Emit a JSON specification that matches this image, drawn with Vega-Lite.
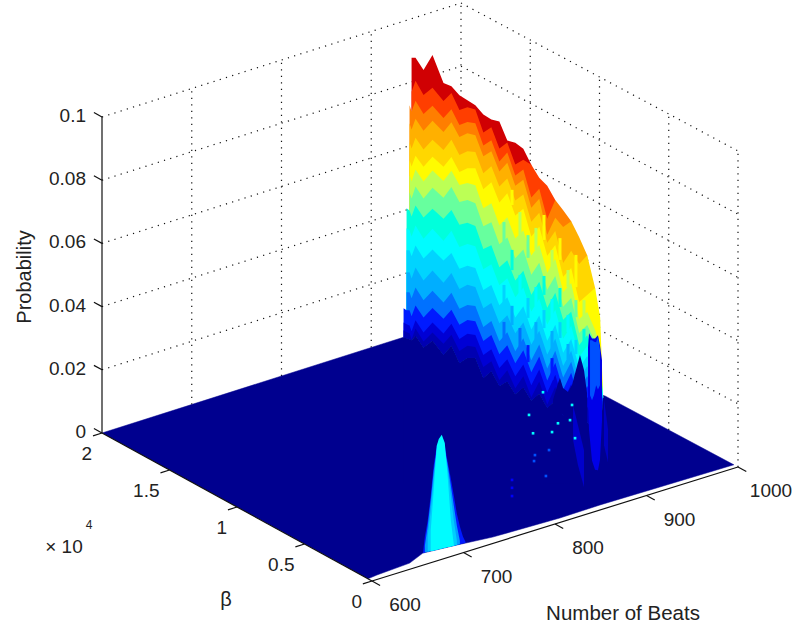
{"$schema":"https://vega.github.io/schema/vega-lite/v6.json","width":807,"height":625,"padding":0,"autosize":{"type":"none"},"background":"white","config":{"view":{"stroke":null}},
"datasets":{
"wall":[
{"beats":936.3,"beta":19439,"L92":0.0897,"L85":0.079,"L79":0.0727,"L73":0.067,"L68":0.061,"L63":0.0553,"L57":0.0506,"L50":0.0452,"L43":0.0395,"L37":0.0332,"L31":0.0269,"L26":0.0199,"L19":0.0136,"L13":0.0079,"L8":0.0032,"L4":0.0006,"L0":0.0003},
{"beats":936,"beta":20000,"L13":0.0092,"L8":0.0047,"L4":0.0022,"L0":0},
{"beats":936.1,"beta":19790,"L43":0.0413,"L37":0.035,"L31":0.028,"L26":0.021,"L19":0.0147,"L13":0.009,"L8":0.0046,"L4":0.0021,"L0":0.0002},
{"beats":936.2,"beta":19579,"L79":0.0744,"L73":0.0687,"L68":0.0627,"L63":0.057,"L57":0.0522,"L50":0.0468,"L43":0.0411,"L37":0.0348,"L31":0.0285,"L26":0.0215,"L19":0.0152,"L13":0.0095,"L8":0.0047,"L4":0.0022,"L0":0.0003},
{"beats":936.4,"beta":19159,"L92":0.0904,"L85":0.0831,"L79":0.0768,"L73":0.0711,"L68":0.0651,"L63":0.0594,"L57":0.055,"L50":0.0496,"L43":0.0436,"L37":0.0373,"L31":0.031,"L26":0.024,"L19":0.0177,"L13":0.012,"L8":0.0073,"L4":0.0047,"L0":0.0025},
{"beats":936.7,"beta":18598,"L92":0.0878,"L85":0.0799,"L79":0.0739,"L73":0.0686,"L68":0.0626,"L63":0.0572,"L57":0.0525,"L50":0.0471,"L43":0.0411,"L37":0.0344,"L31":0.0281,"L26":0.0212,"L19":0.0149,"L13":0.0095,"L8":0.0047,"L4":0.0019,"L0":0},
{"beats":937,"beta":17967,"L92":0.094,"L85":0.0836,"L79":0.0779,"L73":0.0732,"L68":0.0672,"L63":0.0618,"L57":0.0574,"L50":0.052,"L43":0.0453,"L37":0.039,"L31":0.0324,"L26":0.0258,"L19":0.0194,"L13":0.0139,"L8":0.0093,"L4":0.0062,"L0":0.0036},
{"beats":937.4,"beta":17196,"L92":0.0869,"L85":0.0812,"L79":0.0758,"L73":0.0714,"L68":0.0657,"L63":0.0604,"L57":0.0559,"L50":0.0506,"L43":0.0439,"L37":0.037,"L31":0.0307,"L26":0.0237,"L19":0.0174,"L13":0.0123,"L8":0.0076,"L4":0.0044,"L0":0.0009},
{"beats":937.6,"beta":16635,"L92":0.0872,"L85":0.085,"L79":0.0799,"L73":0.0758,"L68":0.0702,"L63":0.0648,"L57":0.0604,"L50":0.0553,"L43":0.048,"L37":0.0414,"L31":0.0344,"L26":0.0281,"L19":0.0218,"L13":0.0164,"L8":0.012,"L4":0.0085,"L0":0.0051},
{"beats":937.9,"beta":16074,"L92":0.0856,"L85":0.0809,"L79":0.0762,"L73":0.0724,"L68":0.0667,"L63":0.0613,"L57":0.0572,"L50":0.0518,"L43":0.0446,"L37":0.0376,"L31":0.0307,"L26":0.0243,"L19":0.018,"L13":0.013,"L8":0.0085,"L4":0.0047,"L0":0.0009},
{"beats":938.2,"beta":15514,"L92":0.0853,"L85":0.0831,"L79":0.0784,"L73":0.0749,"L68":0.0692,"L63":0.0638,"L57":0.0591,"L50":0.0537,"L43":0.0465,"L37":0.0398,"L31":0.0329,"L26":0.0269,"L19":0.0205,"L13":0.0158,"L8":0.0114,"L4":0.0076,"L0":0.0038},
{"beats":938.4,"beta":14953,"L92":0.085,"L85":0.0837,"L79":0.0793,"L73":0.0755,"L68":0.0702,"L63":0.0651,"L57":0.0597,"L50":0.054,"L43":0.0468,"L37":0.0404,"L31":0.0335,"L26":0.0275,"L19":0.0215,"L13":0.0167,"L8":0.0123,"L4":0.0085,"L0":0.0051},
{"beats":938.7,"beta":14392,"L92":0.0834,"L85":0.0777,"L79":0.0736,"L73":0.0702,"L68":0.0648,"L63":0.0597,"L57":0.0537,"L50":0.048,"L43":0.0408,"L37":0.0344,"L31":0.0278,"L26":0.0221,"L19":0.0161,"L13":0.0117,"L8":0.0073,"L4":0.0035,"L0":0},
{"beats":939,"beta":13831,"L92":0.0831,"L85":0.0806,"L79":0.0765,"L73":0.073,"L68":0.0683,"L63":0.0632,"L57":0.0566,"L50":0.0506,"L43":0.0433,"L37":0.0373,"L31":0.0307,"L26":0.025,"L19":0.0193,"L13":0.0149,"L8":0.0104,"L4":0.0066,"L0":0.0035},
{"beats":939.3,"beta":13270,"L92":0.0837,"L85":0.0752,"L79":0.0711,"L73":0.0679,"L68":0.0632,"L63":0.0581,"L57":0.0509,"L50":0.0449,"L43":0.0376,"L37":0.0319,"L31":0.0256,"L26":0.0199,"L19":0.0142,"L13":0.0101,"L8":0.0057,"L4":0.0019,"L0":0},
{"beats":939.5,"beta":12710,"L92":0.079,"L85":0.0784,"L79":0.0752,"L73":0.072,"L68":0.067,"L63":0.0623,"L57":0.0547,"L50":0.0483,"L43":0.0411,"L37":0.0354,"L31":0.0294,"L26":0.0237,"L19":0.0183,"L13":0.0142,"L8":0.0098,"L4":0.0063,"L0":0.0028},
{"beats":939.8,"beta":12149,"L92":0.0796,"L85":0.0727,"L79":0.0692,"L73":0.066,"L68":0.0613,"L63":0.0566,"L57":0.0493,"L50":0.043,"L43":0.036,"L37":0.0307,"L31":0.0243,"L26":0.0193,"L19":0.0136,"L13":0.0098,"L8":0.0057,"L4":0.0019,"L0":0},
{"beats":940.1,"beta":11588,"L92":0.079,"L85":0.0755,"L79":0.0724,"L73":0.0692,"L68":0.0645,"L63":0.06,"L57":0.0531,"L50":0.0471,"L43":0.0404,"L37":0.0351,"L31":0.0291,"L26":0.024,"L19":0.019,"L13":0.0152,"L8":0.0107,"L4":0.007,"L0":0.0035},
{"beats":940.4,"beta":11027,"L92":0.0752,"L85":0.0752,"L79":0.0648,"L73":0.0616,"L68":0.0572,"L63":0.0525,"L57":0.0465,"L50":0.0404,"L43":0.0341,"L37":0.0288,"L31":0.0231,"L26":0.0183,"L19":0.0133,"L13":0.0095,"L8":0.0054,"L4":0.0016,"L0":0.0006},
{"beats":940.6,"beta":10466,"L85":0.0724,"L79":0.0689,"L73":0.0657,"L68":0.0613,"L63":0.0569,"L57":0.0512,"L50":0.0455,"L43":0.0395,"L37":0.0341,"L31":0.0288,"L26":0.024,"L19":0.0196,"L13":0.0158,"L8":0.0117,"L4":0.0079,"L0":0.0041},
{"beats":940.9,"beta":9906,"L85":0.0711,"L79":0.0607,"L73":0.0556,"L68":0.0531,"L63":0.049,"L57":0.0436,"L50":0.0382,"L43":0.0325,"L37":0.0272,"L31":0.0221,"L26":0.0177,"L19":0.0133,"L13":0.0095,"L8":0.0057,"L4":0.0019,"L0":0.0009},
{"beats":941.2,"beta":9345,"L85":0.0679,"L79":0.0679,"L73":0.0623,"L68":0.0581,"L63":0.0537,"L57":0.0493,"L50":0.0439,"L43":0.0386,"L37":0.0332,"L31":0.0284,"L26":0.024,"L19":0.0202,"L13":0.0164,"L8":0.0126,"L4":0.0088,"L0":0.0044},
{"beats":941.4,"beta":8784,"L79":0.066,"L73":0.0607,"L68":0.0493,"L63":0.0449,"L57":0.0401,"L50":0.0354,"L43":0.0313,"L37":0.0253,"L31":0.0209,"L26":0.0167,"L19":0.013,"L13":0.0092,"L8":0.0054,"L4":0.0019,"L0":0.0009},
{"beats":941.7,"beta":8223,"L79":0.0638,"L73":0.0638,"L68":0.0544,"L63":0.049,"L57":0.0442,"L50":0.0395,"L43":0.0351,"L37":0.0307,"L31":0.0265,"L26":0.0228,"L19":0.0193,"L13":0.0158,"L8":0.0123,"L4":0.0088,"L0":0.0041},
{"beats":942,"beta":7662,"L73":0.06,"L68":0.0515,"L63":0.0395,"L57":0.0341,"L50":0.0297,"L43":0.0259,"L37":0.0221,"L31":0.0186,"L26":0.0149,"L19":0.0117,"L13":0.0082,"L8":0.0047,"L4":0.0016,"L0":0.0003},
{"beats":942.3,"beta":7102,"L73":0.0556,"L68":0.0556,"L63":0.043,"L57":0.0376,"L50":0.0335,"L43":0.0303,"L37":0.0269,"L31":0.0237,"L26":0.0205,"L19":0.0174,"L13":0.0142,"L8":0.0107,"L4":0.0076,"L0":0.0028},
{"beats":942.5,"beta":6541,"L68":0.0465,"L63":0.0465,"L57":0.0332,"L50":0.0294,"L43":0.0256,"L37":0.0224,"L31":0.0193,"L26":0.0161,"L19":0.013,"L13":0.0098,"L8":0.0066,"L4":0.0038,"L0":0.0009},
{"beats":942.7,"beta":6190,"L63":0.0381,"L57":0.0286,"L50":0.0254,"L43":0.0222,"L37":0.0197,"L31":0.0172,"L26":0.0144,"L19":0.0117,"L13":0.0087,"L8":0.0055,"L4":0.0028,"L0":0.0008},
{"beats":942.8,"beta":5980,"L63":0.0133,"L57":0.0133,"L50":0.0133,"L43":0.0133,"L37":0.0133,"L31":0.0133,"L26":0.0133,"L19":0.0133,"L13":0.0133,"L8":0.0133,"L4":0.0133,"L0":0.0133}
],
"streaks":[
{"level":0.05,"beats":774.1,"prob":0.0932,"bottom":0.086},{"level":0.031,"beats":774.1,"prob":0.0733,"bottom":0.0666},{"level":0.019,"beats":774.1,"prob":0.0616,"bottom":0.0553},
{"level":0.063,"beats":782.9,"prob":0.1026,"bottom":0.0978},{"level":0.043,"beats":782.9,"prob":0.0836,"bottom":0.0772},{"level":0.026,"beats":782.9,"prob":0.0659,"bottom":0.0598},
{"level":0.057,"beats":791.6,"prob":0.0948,"bottom":0.0875},{"level":0.037,"beats":791.6,"prob":0.0749,"bottom":0.0685},{"level":0.019,"beats":791.6,"prob":0.0581,"bottom":0.0524},
{"level":0.05,"beats":800.4,"prob":0.0867,"bottom":0.0795},{"level":0.031,"beats":800.4,"prob":0.0668,"bottom":0.0605},{"level":0.013,"beats":800.4,"prob":0.0519,"bottom":0.0465},
{"level":0.057,"beats":809.1,"prob":0.0882,"bottom":0.0812},{"level":0.037,"beats":809.1,"prob":0.0695,"bottom":0.0635},{"level":0.026,"beats":809.1,"prob":0.0584,"bottom":0.053},
{"level":0.063,"beats":817.9,"prob":0.0915,"bottom":0.0836},{"level":0.043,"beats":817.9,"prob":0.0722,"bottom":0.0662},{"level":0.031,"beats":817.9,"prob":0.0614,"bottom":0.0557},
{"level":0.057,"beats":826.7,"prob":0.0796,"bottom":0.0739},{"level":0.037,"beats":826.7,"prob":0.0641,"bottom":0.0578},{"level":0.026,"beats":826.7,"prob":0.054,"bottom":0.0486},{"level":0.013,"beats":826.7,"prob":0.0454,"bottom":0.0385},
{"level":0.063,"beats":835.4,"prob":0.0826,"bottom":0.0757},{"level":0.043,"beats":835.4,"prob":0.0668,"bottom":0.0608},{"level":0.031,"beats":835.4,"prob":0.056,"bottom":0.051},
{"level":0.057,"beats":844.2,"prob":0.0717,"bottom":0.0663},{"level":0.037,"beats":844.2,"prob":0.0575,"bottom":0.0521},{"level":0.026,"beats":844.2,"prob":0.0483,"bottom":0.0435},
{"level":0.063,"beats":852.9,"prob":0.0757,"bottom":0.0655},{"level":0.05,"beats":852.9,"prob":0.0614,"bottom":0.056},{"level":0.031,"beats":852.9,"prob":0.0488,"bottom":0.0443},
{"level":0.057,"beats":861.7,"prob":0.0606,"bottom":0.0549},{"level":0.043,"beats":861.7,"prob":0.0515,"bottom":0.0473}
],
"bump":[
{"beats":676,"beta":1020,"L13":0.0098,"L24":0.0082,"L30":0.0051},
{"beats":673,"beta":1027,"L13":0.0051,"L24":0.0022},
{"beats":671,"beta":1027,"L13":0.0002},
{"beats":679,"beta":1000,"L13":0.0175,"L24":0.016,"L30":0.0128,"L37":0.0065},
{"beats":682,"beta":980,"L13":0.0269,"L24":0.0253,"L30":0.0228,"L37":0.019},
{"beats":685,"beta":960,"L13":0.0329,"L24":0.0319,"L30":0.0313,"L37":0.0329},
{"beats":687,"beta":945,"L13":0.0343,"L24":0.0337,"L30":0.0337,"L37":0.0349},
{"beats":690,"beta":925,"L13":0.0348,"L24":0.0335,"L30":0.0341,"L37":0.036},
{"beats":693,"beta":905,"L13":0.0323,"L24":0.0313,"L30":0.0307,"L37":0.0332},
{"beats":696,"beta":885,"L13":0.0267,"L24":0.0258,"L30":0.0242,"L37":0.0216},
{"beats":699,"beta":865,"L13":0.0215,"L24":0.0193,"L30":0.0161,"L37":0.0082},
{"beats":702,"beta":845,"L13":0.0158,"L24":0.0126,"L30":0.0079,"L37":0.0003},
{"beats":705,"beta":825,"L13":0.0099,"L24":0.0061,"L30":0.0014},
{"beats":708,"beta":805,"L13":0.0056,"L24":0.0011},
{"beats":711,"beta":785,"L13":0.0022},
{"beats":714,"beta":765,"L13":0}
],
"spikes":[
{"s":"a","level":0,"beats":827.8,"beta":2000,"prob":0.0321,"bottom":0.0305},
{"s":"a","level":0,"beats":833.2,"beta":2000,"prob":0.0369,"bottom":0.0284},
{"s":"a","level":0,"beats":835.4,"beta":2000,"prob":0.0383,"bottom":0.0275},
{"s":"a","level":0,"beats":838.7,"beta":2000,"prob":0.0349,"bottom":0.0263},
{"s":"a","level":0,"beats":844.2,"beta":2000,"prob":0.0331,"bottom":0.0227},
{"s":"a","level":0,"beats":848.6,"beta":2000,"prob":0.0349,"bottom":0.0207},
{"s":"a","level":0,"beats":852.9,"beta":2000,"prob":0.0393,"bottom":0.0171},
{"s":"a","level":0,"beats":857.3,"beta":2000,"prob":0.0436,"bottom":0.0151},
{"s":"a","level":0,"beats":861.7,"beta":2000,"prob":0.0385,"bottom":0.0147},
{"s":"a","level":0,"beats":865,"beta":2000,"prob":0.0309,"bottom":0.0145},
{"s":"b","level":0.01,"beats":866.1,"beta":2000,"prob":0.0452,"bottom":0.0288},
{"s":"b","level":0.01,"beats":867.2,"beta":2000,"prob":0.0496,"bottom":0.019},
{"s":"b","level":0.01,"beats":870.5,"beta":2000,"prob":0.0477,"bottom":0.009},
{"s":"b","level":0.01,"beats":873.8,"beta":2000,"prob":0.0474,"bottom":0.0058},
{"s":"b","level":0.01,"beats":877,"beta":2000,"prob":0.0481,"bottom":0.0054},
{"s":"b","level":0.01,"beats":879.2,"beta":2000,"prob":0.0447,"bottom":0.0085},
{"s":"b","level":0.01,"beats":881.4,"beta":2000,"prob":0.0398,"bottom":0.0208},
{"s":"e","level":0.006,"beats":883.6,"beta":2000,"prob":0.0272,"bottom":0.0127},
{"s":"e","level":0.006,"beats":888,"beta":2000,"prob":0.0174,"bottom":0.0069},
{"s":"c","level":0.016,"beats":868.3,"beta":2000,"prob":0.0473,"bottom":0.0299},
{"s":"c","level":0.016,"beats":870.5,"beta":2000,"prob":0.0471,"bottom":0.0281},
{"s":"c","level":0.016,"beats":872.7,"beta":2000,"prob":0.0464,"bottom":0.0296},
{"s":"c","level":0.016,"beats":875,"beta":2000,"prob":0.0461,"bottom":0.0325},
{"s":"c","level":0.016,"beats":877,"beta":2000,"prob":0.0476,"bottom":0.0309},
{"s":"c","level":0.016,"beats":879.2,"beta":2000,"prob":0.0432,"bottom":0.0321},
{"s":"d","level":0.007,"beats":849.7,"beta":2000,"prob":0.0284,"bottom":0.0174},
{"s":"d","level":0.007,"beats":855.1,"beta":2000,"prob":0.0216,"bottom":0.009},
{"s":"d","level":0.007,"beats":861.7,"beta":2000,"prob":0.0131,"bottom":0.0015}
],
"specks":[
{"level":0.037,"beats":801.5,"beta":2000,"prob":0.0297},
{"level":0.037,"beats":805.9,"beta":2000,"prob":0.0235},
{"level":0.037,"beats":826.7,"beta":2000,"prob":0.022},
{"level":0.037,"beats":833.2,"beta":2000,"prob":0.0242},
{"level":0.037,"beats":846.4,"beta":2000,"prob":0.024},
{"level":0.037,"beats":848.6,"beta":2000,"prob":0.0286},
{"level":0.037,"beats":851.9,"beta":2000,"prob":0.0178},
{"level":0.037,"beats":816.8,"beta":2000,"prob":0.0355},
{"level":0.016,"beats":808,"beta":2000,"prob":0.0164},
{"level":0.016,"beats":807,"beta":2000,"prob":0.0146},
{"level":0.016,"beats":823.4,"beta":2000,"prob":0.0166},
{"level":0.016,"beats":820,"beta":2000,"prob":0.0087},
{"level":0.012,"beats":782.9,"beta":2000,"prob":0.0108},
{"level":0.012,"beats":782.9,"beta":2000,"prob":0.0083},
{"level":0.012,"beats":782.9,"beta":2000,"prob":0.0057}
],
"floor":[
{"i":0,"beats":600,"beta":20000,"prob":0},{"i":1,"beats":936,"beta":20000,"prob":0},{"i":2,"beats":1000,"beta":9600,"prob":0},{"i":3,"beats":1000,"beta":300,"prob":0},{"i":4,"beats":855.6,"beta":430,"prob":0},{"i":5,"beats":811,"beta":383,"prob":0},{"i":6,"beats":740,"beta":544,"prob":0},{"i":7,"beats":705,"beta":820,"prob":0},{"i":8,"beats":671,"beta":1040,"prob":0},{"i":9,"beats":649,"beta":531,"prob":0},{"i":10,"beats":611,"beta":383,"prob":0},{"i":11,"beats":600,"beta":300,"prob":0}
],
"grid":[
{"g":"a1","beats":600,"beta":20000,"prob":0.02},{"g":"a1","beats":1000,"beta":20000,"prob":0.02},
{"g":"a2","beats":600,"beta":20000,"prob":0.04},{"g":"a2","beats":1000,"beta":20000,"prob":0.04},
{"g":"a3","beats":600,"beta":20000,"prob":0.06},{"g":"a3","beats":1000,"beta":20000,"prob":0.06},
{"g":"a4","beats":600,"beta":20000,"prob":0.08},{"g":"a4","beats":1000,"beta":20000,"prob":0.08},
{"g":"a5","beats":600,"beta":20000,"prob":0.1},{"g":"a5","beats":1000,"beta":20000,"prob":0.1},
{"g":"b1","beats":1000,"beta":20000,"prob":0.02},{"g":"b1","beats":1000,"beta":0,"prob":0.02},
{"g":"b2","beats":1000,"beta":20000,"prob":0.04},{"g":"b2","beats":1000,"beta":0,"prob":0.04},
{"g":"b3","beats":1000,"beta":20000,"prob":0.06},{"g":"b3","beats":1000,"beta":0,"prob":0.06},
{"g":"b4","beats":1000,"beta":20000,"prob":0.08},{"g":"b4","beats":1000,"beta":0,"prob":0.08},
{"g":"b5","beats":1000,"beta":20000,"prob":0.1},{"g":"b5","beats":1000,"beta":0,"prob":0.1},
{"g":"c1","beats":700,"beta":20000,"prob":0},{"g":"c1","beats":700,"beta":20000,"prob":0.1},
{"g":"c2","beats":800,"beta":20000,"prob":0},{"g":"c2","beats":800,"beta":20000,"prob":0.1},
{"g":"c3","beats":900,"beta":20000,"prob":0},{"g":"c3","beats":900,"beta":20000,"prob":0.1},
{"g":"c4","beats":1000,"beta":20000,"prob":0},{"g":"c4","beats":1000,"beta":20000,"prob":0.1},
{"g":"d1","beats":1000,"beta":15000,"prob":0},{"g":"d1","beats":1000,"beta":15000,"prob":0.1},
{"g":"d2","beats":1000,"beta":10000,"prob":0},{"g":"d2","beats":1000,"beta":10000,"prob":0.1},
{"g":"d3","beats":1000,"beta":5000,"prob":0},{"g":"d3","beats":1000,"beta":5000,"prob":0.1},
{"g":"d4","beats":1000,"beta":0,"prob":0},{"g":"d4","beats":1000,"beta":0,"prob":0.1}
],
"axes":[
{"g":"z","beats":600,"beta":20000,"prob":0},{"g":"z","beats":600,"beta":20000,"prob":0.1},
{"g":"y","beats":600,"beta":0,"prob":0},{"g":"y","beats":600,"beta":20000,"prob":0},
{"g":"x","beats":600,"beta":0,"prob":0},{"g":"x","beats":1000,"beta":0,"prob":0},
{"g":"t1","beats":600,"beta":20000,"prob":0},{"g":"t1","beats":600,"beta":20600,"prob":0},
{"g":"t2","beats":600,"beta":20000,"prob":0.02},{"g":"t2","beats":600,"beta":20600,"prob":0.02},
{"g":"t3","beats":600,"beta":20000,"prob":0.04},{"g":"t3","beats":600,"beta":20600,"prob":0.04},
{"g":"t4","beats":600,"beta":20000,"prob":0.06},{"g":"t4","beats":600,"beta":20600,"prob":0.06},
{"g":"t5","beats":600,"beta":20000,"prob":0.08},{"g":"t5","beats":600,"beta":20600,"prob":0.08},
{"g":"t6","beats":600,"beta":20000,"prob":0.1},{"g":"t6","beats":600,"beta":20600,"prob":0.1},
{"g":"u1","beats":600,"beta":0,"prob":0},{"g":"u1","beats":590,"beta":0,"prob":0},
{"g":"u2","beats":600,"beta":5000,"prob":0},{"g":"u2","beats":590,"beta":5000,"prob":0},
{"g":"u3","beats":600,"beta":10000,"prob":0},{"g":"u3","beats":590,"beta":10000,"prob":0},
{"g":"u4","beats":600,"beta":15000,"prob":0},{"g":"u4","beats":590,"beta":15000,"prob":0},
{"g":"u5","beats":600,"beta":20000,"prob":0},{"g":"u5","beats":590,"beta":20000,"prob":0},
{"g":"v1","beats":600,"beta":0,"prob":0},{"g":"v1","beats":600,"beta":-600,"prob":0},
{"g":"v2","beats":700,"beta":0,"prob":0},{"g":"v2","beats":700,"beta":-600,"prob":0},
{"g":"v3","beats":800,"beta":0,"prob":0},{"g":"v3","beats":800,"beta":-600,"prob":0},
{"g":"v4","beats":900,"beta":0,"prob":0},{"g":"v4","beats":900,"beta":-600,"prob":0},
{"g":"v5","beats":1000,"beta":0,"prob":0},{"g":"v5","beats":1000,"beta":-600,"prob":0}
]},
"encoding":{
"x":{"field":"sx","type":"quantitative","scale":{"domain":[0,807],"nice":false,"zero":false},"axis":null},
"y":{"field":"sy","type":"quantitative","scale":{"domain":[625,0],"nice":false,"zero":false},"axis":null,"stack":null}},
"layer":[
{"data":{"name":"grid"},"transform":[{"calculate":"372+366*(datum.beats-600)/400-270*datum.beta/20000-7*(datum.beats-600)/400*datum.beta/20000","as":"sx"},{"calculate":"581-114*(datum.beats-600)/400-148*datum.beta/20000-3160*datum.prob","as":"sy"}],
"mark":{"type":"line","stroke":"#111111","strokeWidth":1.2,"strokeDash":[1.2,5.3]},"encoding":{"detail":{"field":"g"}}},
{"data":{"name":"floor"},"transform":[{"calculate":"372+366*(datum.beats-600)/400-270*datum.beta/20000-7*(datum.beats-600)/400*datum.beta/20000","as":"sx"},{"calculate":"581-114*(datum.beats-600)/400-148*datum.beta/20000-3160*datum.prob","as":"sy"}],
"mark":{"type":"line","fill":"#00008f","stroke":"#00008f","strokeWidth":0.5},"encoding":{"order":{"field":"i"}}},
{"data":{"name":"wall"},"transform":[{"fold":["L92","L85","L79","L73","L68","L63","L57","L50","L43","L37","L31","L26","L19","L13","L8","L4","L0"],"as":["key","prob"]},{"filter":"isValid(datum.prob)"},{"calculate":"toNumber(slice(datum.key,1))/1000","as":"level"},{"calculate":"372+366*(datum.beats-600)/400-270*datum.beta/20000-7*(datum.beats-600)/400*datum.beta/20000","as":"sx"},{"calculate":"581-114*(datum.beats-600)/400-148*datum.beta/20000-3160*datum.prob","as":"sy"},{"calculate":"datum.key==='L0'?581-114*(datum.beats-600)/400:581-114*(datum.beats-600)/400-148*datum.beta/20000-3160*datum.L0","as":"sy2"}],
"mark":{"type":"area"},"encoding":{"detail":{"field":"key"},"y2":{"field":"sy2"},"color":{"field":"level","type":"quantitative","legend":null,"scale":{"domain":[0,0.0125,0.0375,0.0625,0.0875,0.1],"range":["#00008f","#0000ff","#00ffff","#ffff00","#ff0000","#800000"]}}}},
{"data":{"name":"streaks"},"transform":[{"calculate":"2000","as":"beta"},{"calculate":"372+366*(datum.beats-600)/400-270*datum.beta/20000-7*(datum.beats-600)/400*datum.beta/20000","as":"sx"},{"calculate":"581-114*(datum.beats-600)/400-148*datum.beta/20000-3160*datum.prob","as":"sy"},{"calculate":"581-114*(datum.beats-600)/400-148*datum.beta/20000-3160*datum.bottom","as":"sy2"}],
"mark":{"type":"rule","strokeWidth":3},"encoding":{"y2":{"field":"sy2"},"color":{"field":"level","type":"quantitative","legend":null}}},
{"data":{"name":"spikes"},"transform":[{"calculate":"372+366*(datum.beats-600)/400-270*datum.beta/20000-7*(datum.beats-600)/400*datum.beta/20000","as":"sx"},{"calculate":"581-114*(datum.beats-600)/400-148*datum.beta/20000-3160*datum.prob","as":"sy"},{"calculate":"581-114*(datum.beats-600)/400-148*datum.beta/20000-3160*datum.bottom","as":"sy2"}],
"mark":{"type":"area"},"encoding":{"detail":{"field":"s"},"y2":{"field":"sy2"},"color":{"field":"level","type":"quantitative","legend":null}}},
{"data":{"name":"specks"},"transform":[{"calculate":"372+366*(datum.beats-600)/400-270*datum.beta/20000-7*(datum.beats-600)/400*datum.beta/20000","as":"sx"},{"calculate":"581-114*(datum.beats-600)/400-148*datum.beta/20000-3160*datum.prob","as":"sy"}],
"mark":{"type":"square","size":7,"opacity":1},"encoding":{"color":{"field":"level","type":"quantitative","legend":null}}},
{"data":{"name":"bump"},"transform":[{"fold":["L13","L24","L30","L37"],"as":["key","prob"]},{"filter":"isValid(datum.prob)"},{"calculate":"toNumber(slice(datum.key,1))/1000","as":"level"},{"calculate":"372+366*(datum.beats-600)/400-270*datum.beta/20000-7*(datum.beats-600)/400*datum.beta/20000","as":"sx"},{"calculate":"581-114*(datum.beats-600)/400-148*datum.beta/20000-3160*datum.prob","as":"sy"},{"calculate":"581-114*(datum.beats-600)/400-148*datum.beta/20000","as":"sy2"}],
"mark":{"type":"area"},"encoding":{"detail":{"field":"key"},"y2":{"field":"sy2"},"color":{"field":"level","type":"quantitative","legend":null}}},
{"data":{"name":"axes"},"transform":[{"calculate":"372+366*(datum.beats-600)/400-270*datum.beta/20000-7*(datum.beats-600)/400*datum.beta/20000","as":"sx"},{"calculate":"581-114*(datum.beats-600)/400-148*datum.beta/20000-3160*datum.prob","as":"sy"}],
"mark":{"type":"line","stroke":"#111111","strokeWidth":1.2},"encoding":{"detail":{"field":"g"}}},
{"data":{"values":[{"label":"0","beats":600,"beta":20000,"prob":0},{"label":"0.02","beats":600,"beta":20000,"prob":0.02},{"label":"0.04","beats":600,"beta":20000,"prob":0.04},{"label":"0.06","beats":600,"beta":20000,"prob":0.06},{"label":"0.08","beats":600,"beta":20000,"prob":0.08},{"label":"0.1","beats":600,"beta":20000,"prob":0.1}]},"transform":[{"calculate":"372+366*(datum.beats-600)/400-270*datum.beta/20000-7*(datum.beats-600)/400*datum.beta/20000","as":"sx"},{"calculate":"581-114*(datum.beats-600)/400-148*datum.beta/20000-3160*datum.prob","as":"sy"}],
"mark":{"type":"text","font":"Liberation Sans","fontSize":19,"fill":"#222222","align":"right","baseline":"middle","dx":-16,"dy":-1},"encoding":{"text":{"field":"label"}}},
{"data":{"values":[{"label":"0","beats":600,"beta":0,"prob":0},{"label":"0.5","beats":600,"beta":5000,"prob":0},{"label":"1","beats":600,"beta":10000,"prob":0},{"label":"1.5","beats":600,"beta":15000,"prob":0},{"label":"2","beats":600,"beta":20000,"prob":0}]},"transform":[{"calculate":"372+366*(datum.beats-600)/400-270*datum.beta/20000-7*(datum.beats-600)/400*datum.beta/20000","as":"sx"},{"calculate":"581-114*(datum.beats-600)/400-148*datum.beta/20000-3160*datum.prob","as":"sy"}],
"mark":{"type":"text","font":"Liberation Sans","fontSize":19,"fill":"#222222","align":"right","baseline":"middle","dx":-10,"dy":21},"encoding":{"text":{"field":"label"}}},
{"data":{"values":[{"label":"600","beats":600,"beta":0,"prob":0},{"label":"700","beats":700,"beta":0,"prob":0},{"label":"800","beats":800,"beta":0,"prob":0},{"label":"900","beats":900,"beta":0,"prob":0},{"label":"1000","beats":1000,"beta":0,"prob":0}]},"transform":[{"calculate":"372+366*(datum.beats-600)/400-270*datum.beta/20000-7*(datum.beats-600)/400*datum.beta/20000","as":"sx"},{"calculate":"581-114*(datum.beats-600)/400-148*datum.beta/20000-3160*datum.prob","as":"sy"}],
"mark":{"type":"text","font":"Liberation Sans","fontSize":19,"fill":"#222222","align":"center","baseline":"middle","dx":33,"dy":24},"encoding":{"text":{"field":"label"}}},
{"data":{"values":[{"label":"Number of Beats","beats":800,"beta":0,"prob":0}]},"transform":[{"calculate":"372+366*(datum.beats-600)/400-270*datum.beta/20000-7*(datum.beats-600)/400*datum.beta/20000","as":"sx"},{"calculate":"581-114*(datum.beats-600)/400-148*datum.beta/20000-3160*datum.prob","as":"sy"}],
"mark":{"type":"text","font":"Liberation Sans","fontSize":20.5,"fill":"#222222","align":"center","baseline":"middle","dx":68,"dy":90},"encoding":{"text":{"field":"label"}}},
{"data":{"values":[{"label":"β","beats":600,"beta":10000,"prob":0}]},"transform":[{"calculate":"372+366*(datum.beats-600)/400-270*datum.beta/20000-7*(datum.beats-600)/400*datum.beta/20000","as":"sx"},{"calculate":"581-114*(datum.beats-600)/400-148*datum.beta/20000-3160*datum.prob","as":"sy"}],
"mark":{"type":"text","font":"Liberation Sans","fontSize":20,"fill":"#222222","align":"center","baseline":"middle","dx":-11,"dy":93},"encoding":{"text":{"field":"label"}}},
{"data":{"values":[{"label":"Probability","beats":600,"beta":20000,"prob":0.05}]},"transform":[{"calculate":"372+366*(datum.beats-600)/400-270*datum.beta/20000-7*(datum.beats-600)/400*datum.beta/20000","as":"sx"},{"calculate":"581-114*(datum.beats-600)/400-148*datum.beta/20000-3160*datum.prob","as":"sy"}],
"mark":{"type":"text","font":"Liberation Sans","fontSize":20,"fill":"#222222","align":"center","baseline":"middle","angle":270,"dx":-2,"dy":-77},"encoding":{"text":{"field":"label"}}},
{"data":{"values":[{"label":"× 10","beats":600,"beta":20000,"prob":0}]},"transform":[{"calculate":"372+366*(datum.beats-600)/400-270*datum.beta/20000-7*(datum.beats-600)/400*datum.beta/20000","as":"sx"},{"calculate":"581-114*(datum.beats-600)/400-148*datum.beta/20000-3160*datum.prob","as":"sy"}],
"mark":{"type":"text","font":"Liberation Sans","fontSize":19,"fill":"#222222","align":"center","baseline":"middle","dx":-38,"dy":114},"encoding":{"text":{"field":"label"}}},
{"data":{"values":[{"label":"4","beats":600,"beta":20000,"prob":0}]},"transform":[{"calculate":"372+366*(datum.beats-600)/400-270*datum.beta/20000-7*(datum.beats-600)/400*datum.beta/20000","as":"sx"},{"calculate":"581-114*(datum.beats-600)/400-148*datum.beta/20000-3160*datum.prob","as":"sy"}],
"mark":{"type":"text","font":"Liberation Sans","fontSize":12,"fill":"#222222","align":"center","baseline":"middle","dx":-13,"dy":92},"encoding":{"text":{"field":"label"}}}
]}
